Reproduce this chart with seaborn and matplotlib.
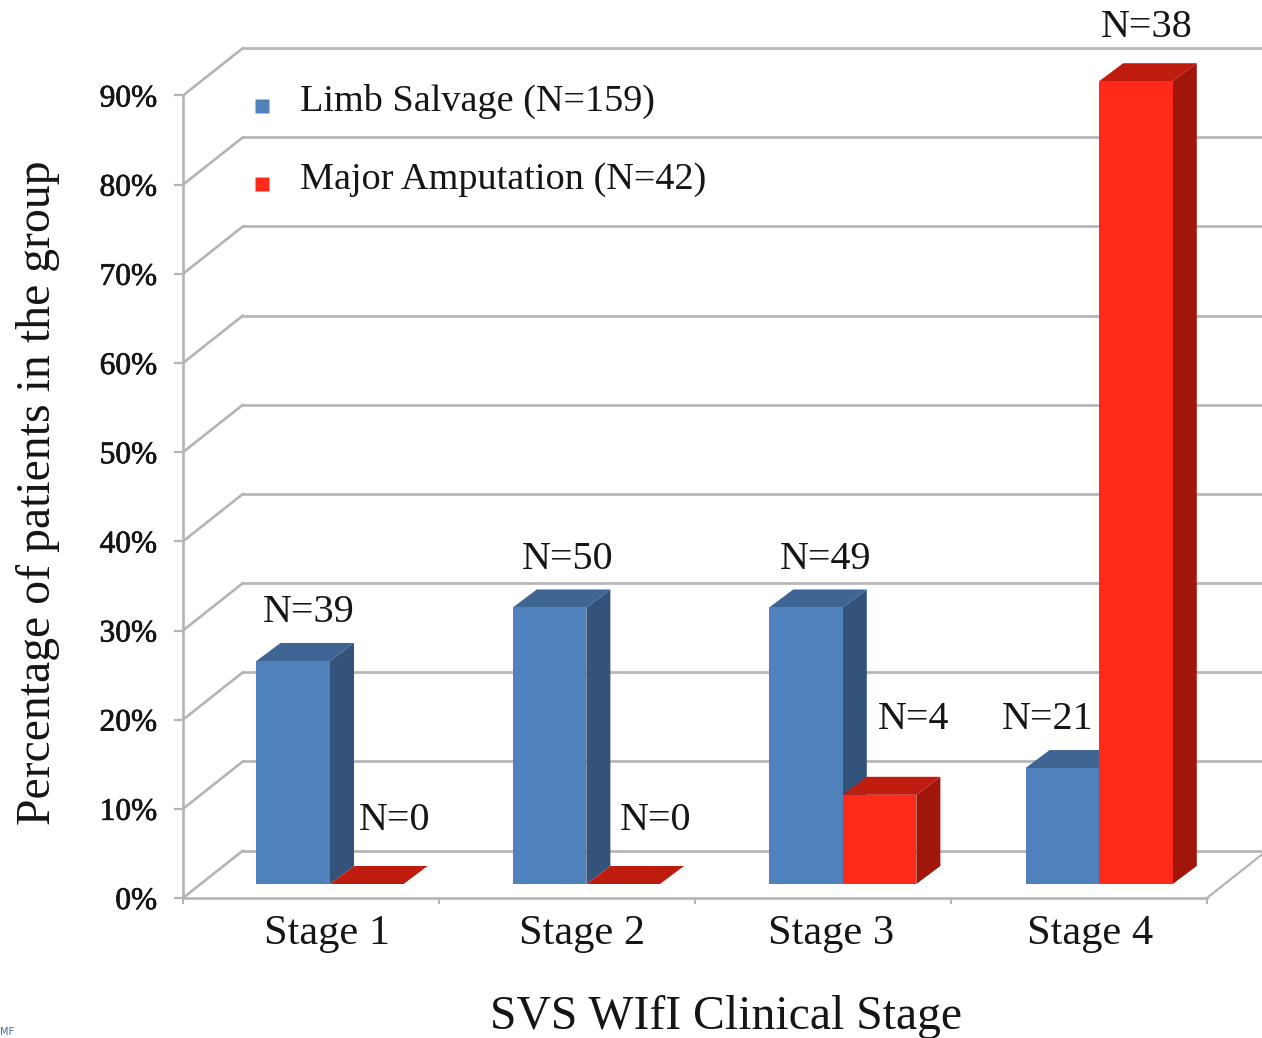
import matplotlib
matplotlib.use("Agg")
import matplotlib.pyplot as plt
import matplotlib.patheffects as pe
import matplotlib.transforms as mtransforms
from matplotlib.lines import Line2D
from matplotlib.markers import MarkerStyle
from matplotlib.patches import Polygon
import numpy as np
import pandas as pd
import seaborn as sns

# ---- data ----
stages = ["Stage 1", "Stage 2", "Stage 3", "Stage 4"]
salvage_pct = [25, 31, 31, 13]
amputation_pct = [0, 0, 10, 90]
salvage_labels = ["N=39", "N=50", "N=49", "N=21"]
amputation_labels = ["N=0", "N=0", "N=4", "N=38"]
group_names = ["Limb Salvage (N=159)", "Major Amputation (N=42)"]
y_ticks = [0, 10, 20, 30, 40, 50, 60, 70, 80, 90]

# ---- style ----
W, H = 1262, 1038
SERIF = "Liberation Serif"
GREY = "#b4b4b4"
FRONT = {group_names[0]: "#4f81bd", group_names[1]: "#ff2a1a"}
SIDE = {group_names[0]: "#33537b", group_names[1]: "#a0160a"}
TOP = {group_names[0]: "#3e6594", group_names[1]: "#bf1c10"}

sns.set_theme(style="white")
plt.rcParams["font.family"] = [SERIF, "DejaVu Sans"]


def box(left, right, top, bottom):
    return [left / W, 1 - bottom / H, (right - left) / W, (bottom - top) / H]


fig = plt.figure(figsize=(W / 100, H / 100), dpi=100, facecolor="white")

# ---- frame: the walls of the 3-D box ----
ax = fig.add_axes(box(183, 1207, 95.5, 898))
ax.set_xlim(0, 4)
ax.set_ylim(0, 90)
ax.set_facecolor("none")
sns.despine(ax=ax, top=True, right=True)
for side in ("left", "bottom"):
    ax.spines[side].set_color(GREY)
    ax.spines[side].set_linewidth(1.9)

depth_x = 60 / 256
depth_y = 47.5 / (802.5 / 90)
for v in y_ticks:
    ax.plot([0, depth_x], [v, v + depth_y], color=GREY, lw=1.9, clip_on=False, zorder=1)
    ax.plot([depth_x, 4.3], [v + depth_y, v + depth_y], color=GREY, lw=1.9, clip_on=False, zorder=1)
ax.plot([4, 4 + depth_x], [0, depth_y], color=GREY, lw=1.6, clip_on=False, zorder=1)

ax.set_yticks(y_ticks)
ax.set_yticklabels([f"{v}%" for v in y_ticks], fontsize=22.6, color="#151515")
for lab in ax.get_yticklabels():
    lab.set_path_effects([pe.withStroke(linewidth=0.5, foreground="#151515")])
ax.set_xticks(range(5))
ax.set_xticklabels([])
ax.tick_params(axis="y", left=True, length=6.5, width=1.6, color=GREY, pad=12)
ax.tick_params(axis="x", bottom=True, length=4.5, width=1.4, color=GREY)

ax.set_ylabel("Percentage of patients in the group", fontsize=34.4, color="#151515", va="center")
ax.yaxis.set_label_coords((38 - 183) / 1024, (898 - 493) / 802.5)
ax.set_xlabel("SVS WIfI Clinical Stage", fontsize=34.3, color="#151515", va="center")
ax.xaxis.set_label_coords((726 - 183) / 1024, (898 - 1017) / 802.5)

# ---- bars ----
df = pd.DataFrame({
    "stage": stages * 2,
    "group": [group_names[0]] * 4 + [group_names[1]] * 4,
    "pct": salvage_pct + amputation_pct,
})
ax_b = fig.add_axes(box(201.8, 1227.4, 81.2, 884))
ax_b.set_facecolor("none")
sns.barplot(data=df, x="stage", y="pct", hue="group", hue_order=group_names,
            palette=FRONT, order=stages, width=0.574, gap=0, saturation=1,
            legend=False, ax=ax_b, linewidth=0)
ax_b.set_xlim(-0.5, 3.5)
ax_b.set_ylim(0, 90)
ax_b.set_xlabel("")
ax_b.set_ylabel("")
ax_b.yaxis.set_visible(False)
sns.despine(ax=ax_b, left=True, bottom=True)
ax_b.tick_params(axis="x", length=0, pad=22, labelsize=30.5, labelcolor="#151515")

bar_dx = 24 / 256.4
bar_dy = 18 / (802.8 / 90)
for k, (container, name) in enumerate(zip(ax_b.containers, group_names)):
    for bar in container:
        x0, w, h = bar.get_x(), bar.get_width(), bar.get_height()
        bar.set_zorder(3 + 2 * k)
        side_pts = [(x0 + w, 0), (x0 + w + bar_dx, bar_dy), (x0 + w + bar_dx, h + bar_dy), (x0 + w, h)]
        top_pts = [(x0, h), (x0 + bar_dx, h + bar_dy), (x0 + w + bar_dx, h + bar_dy), (x0 + w, h)]
        if h > 0:
            ax_b.add_patch(Polygon(side_pts, closed=True, fc=SIDE[name], ec="none", zorder=2 + 2 * k, clip_on=False))
        ax_b.add_patch(Polygon(top_pts, closed=True, fc=TOP[name], ec="none", zorder=2 + 2 * k, clip_on=False))

# count labels, placed relative to their bars (offsets in pixels)
salvage_offsets = [(16, 48), (18, 48), (20, 48), (-15, 48.5)]
amputation_offsets = [(28, 63.5), (32, 63.5), (34, 75.5), (11, 54)]
label_sets = [(salvage_labels, salvage_offsets), (amputation_labels, amputation_offsets)]
for container, (labels, offsets) in zip(ax_b.containers, label_sets):
    for bar, text, (ox, oy) in zip(container, labels, offsets):
        ax_b.annotate(text, (bar.get_x() + bar.get_width() / 2, bar.get_height()),
                      xytext=(ox * 0.72, oy * 0.72), textcoords="offset points",
                      ha="center", va="center", fontsize=28.9, color="#151515",
                      annotation_clip=False, zorder=8)

# stage labels are not centred on the bar pairs in the reference
label_shift = [-3, -4, -12, -9]
for lab, dx in zip(ax_b.get_xticklabels(), label_shift):
    lab.set_transform(lab.get_transform() + mtransforms.Affine2D().translate(dx, 0))

# ---- legend ----
square = MarkerStyle("s", transform=mtransforms.Affine2D().translate(0, -0.45))
handles = [Line2D([], [], ls="none", marker=square, ms=10, mfc=FRONT[n], mec="none", label=n) for n in group_names]
fig.legend(handles=handles, loc="upper left", bbox_to_anchor=(243 / W, 1 - 84 / H),
           frameon=False, fontsize=27.5, labelcolor="#151515", borderpad=0, borderaxespad=0,
           handlelength=1.0, handleheight=0.3, handletextpad=0.5, labelspacing=1.13)

# small fragment in the bottom-left corner of the source image
fig.text(0.0, 1 - 1037 / H, "MF", fontsize=7, color="#3b6c9c", family="DejaVu Sans", va="bottom")

fig.savefig("out.png", dpi=100)
